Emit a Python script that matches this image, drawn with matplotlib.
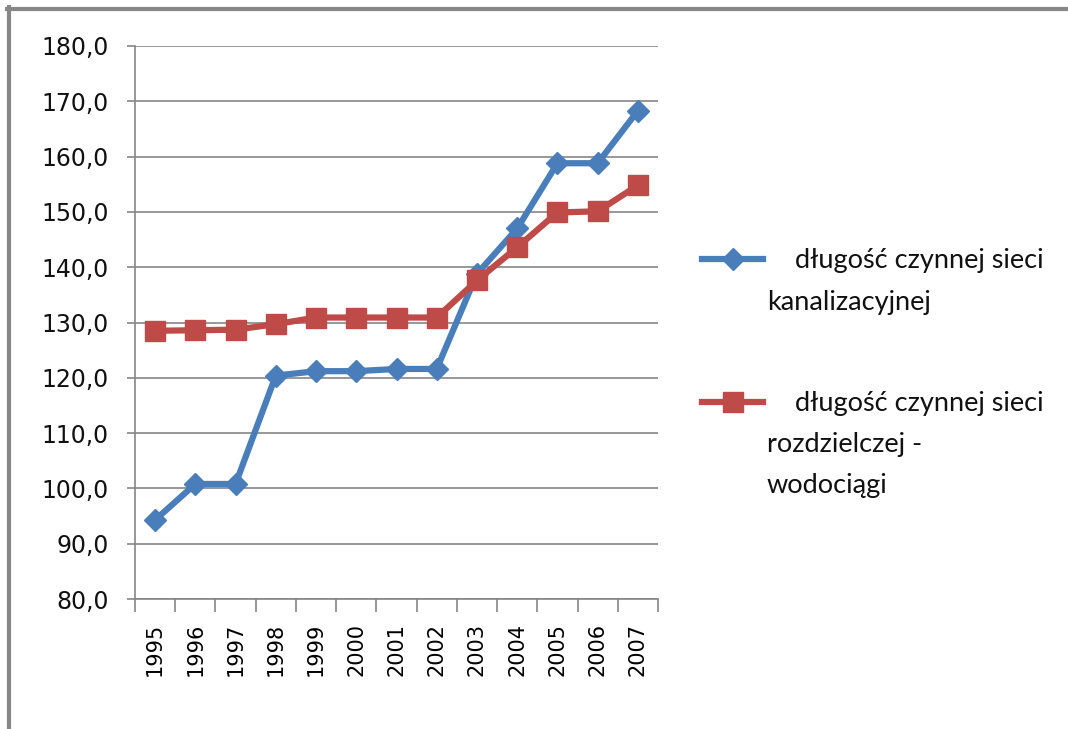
import matplotlib
matplotlib.use("Agg")
from matplotlib import pyplot as plt
from matplotlib.lines import Line2D

# Data
years = ["1995", "1996", "1997", "1998", "1999", "2000", "2001",
         "2002", "2003", "2004", "2005", "2006", "2007"]
kanalizacja = [94.3, 100.8, 100.8, 120.4, 121.2, 121.2, 121.6,
               121.6, 138.8, 147.0, 158.8, 158.8, 168.3]
wodociagi = [128.5, 128.6, 128.7, 129.7, 130.9, 130.9, 130.9,
             130.9, 137.6, 143.6, 149.9, 150.1, 154.8]
label_kan = ["    długość czynnej sieci", "kanalizacyjnej"]
label_wod = ["    długość czynnej sieci", "rozdzielczej -", "wodociągi"]
y_ticks = [80, 90, 100, 110, 120, 130, 140, 150, 160, 170, 180]

blue = "#4A7EBB"
red = "#BE4B48"
grid_c = "#868686"

W, H = 1068, 729
fig = plt.figure(figsize=(W / 100, H / 100), dpi=100)
ax = fig.add_axes([135 / W, 1 - 599 / H, (658 - 135) / W, (599 - 46) / H])

x = list(range(len(years)))
ax.plot(x, kanalizacja, color=blue, lw=4.5, marker="D", ms=11,
        solid_joinstyle="round", zorder=3)
ax.plot(x, wodociagi, color=red, lw=4.5, marker="s", ms=15,
        solid_joinstyle="round", zorder=4)

ax.set_xlim(-0.5, len(years) - 0.5)
ax.set_ylim(80, 180)

# y axis
ax.set_yticks(y_ticks)
ax.set_yticklabels([f"{v:.1f}".replace(".", ",") for v in y_ticks])
ax.yaxis.grid(True, color=grid_c, lw=1.2)
ax.set_axisbelow(True)
ax.tick_params(axis="y", length=6, width=1.2, color=grid_c, pad=13,
               labelsize=17, labelcolor="#111111")

# x axis: tick marks between categories, labels at centres
ax.set_xticks([i - 0.5 for i in range(len(years) + 1)])
ax.set_xticklabels([])
ax.set_xticks(x, minor=True)
ax.set_xticklabels(years, minor=True, rotation=90, fontsize=15)
ax.tick_params(axis="x", which="major", length=9, width=1.2, color=grid_c)
ax.tick_params(axis="x", which="minor", length=0, pad=17)

for side in ["top", "right"]:
    ax.spines[side].set_visible(False)
ax.spines["left"].set_color(grid_c)
ax.spines["bottom"].set_color(grid_c)
ax.spines["left"].set_linewidth(1.2)
ax.spines["bottom"].set_linewidth(1.2)

# legend drawn by hand (handle aligned with first text line)
def fx(px):
    return px / W

def fy(py):
    return 1 - py / H

fig.add_artist(Line2D([fx(702), fx(732.5), fx(763)], [fy(259)] * 3,
                      color=blue, lw=4.5, marker="D", ms=11, markevery=[1],
                      transform=fig.transFigure))
fig.add_artist(Line2D([fx(702), fx(732.5), fx(763)], [fy(402)] * 3,
                      color=red, lw=4.5, marker="s", ms=14, markevery=[1],
                      transform=fig.transFigure))

for i, line in enumerate(label_kan):
    fig.text(fx(767), fy(268 + 42 * i), line, fontsize=19.5, family="Lato",
             va="baseline", ha="left", color="#111111")
for i, line in enumerate(label_wod):
    fig.text(fx(767), fy(411 + 41 * i), line, fontsize=19.5, family="Lato",
             va="baseline", ha="left", color="#111111")

# outer frame (top and left edges only)
fig.add_artist(Line2D([fx(7), 1], [fy(8.5), fy(8.5)], color="#878787",
                      lw=3, transform=fig.transFigure))
fig.add_artist(Line2D([fx(9), fx(9)], [fy(7), 0], color="#878787",
                      lw=3, transform=fig.transFigure))

plt.savefig("out.png", dpi=100)
